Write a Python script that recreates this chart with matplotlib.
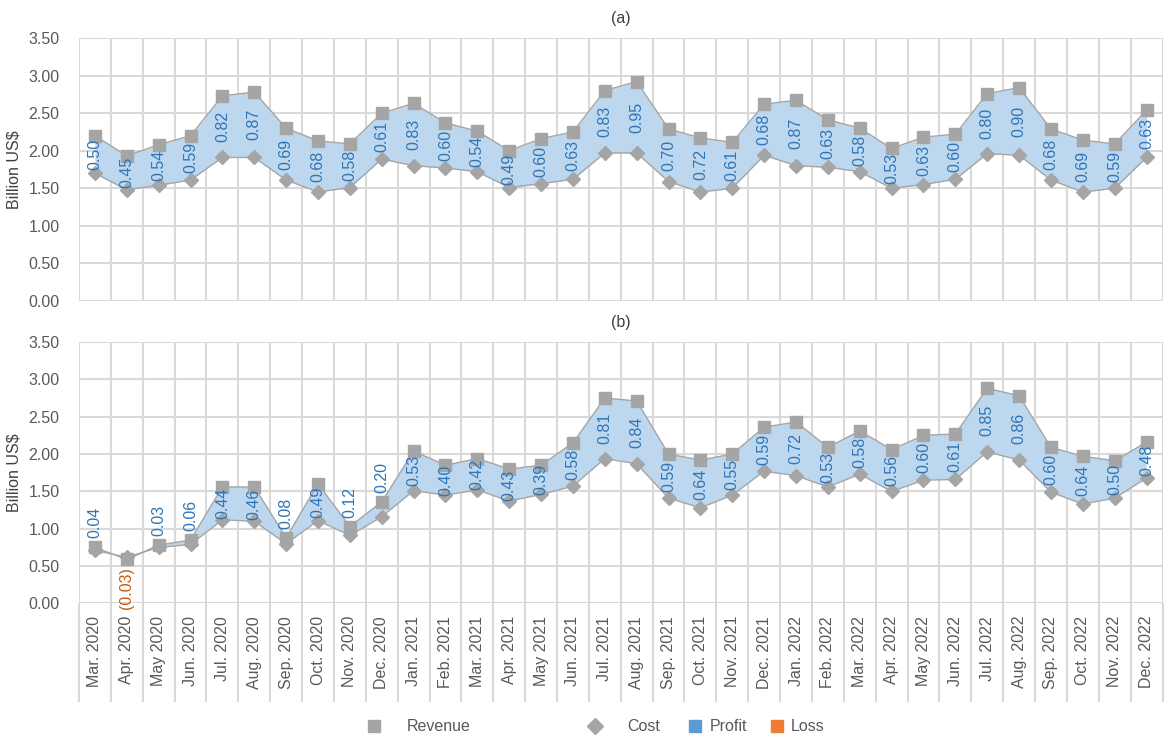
import numpy as np
import matplotlib
matplotlib.use("Agg")
import matplotlib.pyplot as plt
from matplotlib.lines import Line2D

plt.rcParams['font.family'] = ['Liberation Sans', 'DejaVu Sans']

months = ["Mar. 2020", "Apr. 2020", "May 2020", "Jun. 2020", "Jul. 2020", "Aug. 2020",
          "Sep. 2020", "Oct. 2020", "Nov. 2020", "Dec. 2020",
          "Jan. 2021", "Feb. 2021", "Mar. 2021", "Apr. 2021", "May 2021", "Jun. 2021",
          "Jul. 2021", "Aug. 2021", "Sep. 2021", "Oct. 2021", "Nov. 2021", "Dec. 2021",
          "Jan. 2022", "Feb. 2022", "Mar. 2022", "Apr. 2022", "May 2022", "Jun. 2022",
          "Jul. 2022", "Aug. 2022", "Sep. 2022", "Oct. 2022", "Nov. 2022", "Dec. 2022"]

# Panel (a)
revenue_a = [2.20, 1.93, 2.08, 2.20, 2.73, 2.78, 2.30, 2.13, 2.09, 2.50,
             2.63, 2.37, 2.26, 2.00, 2.16, 2.25, 2.80, 2.92, 2.29, 2.17, 2.11, 2.62,
             2.67, 2.41, 2.30, 2.03, 2.18, 2.22, 2.76, 2.84, 2.29, 2.14, 2.09, 2.54]
cost_a = [1.70, 1.48, 1.54, 1.61, 1.91, 1.91, 1.61, 1.45, 1.51, 1.89,
          1.80, 1.77, 1.72, 1.51, 1.56, 1.62, 1.97, 1.97, 1.59, 1.45, 1.50, 1.94,
          1.80, 1.78, 1.72, 1.50, 1.55, 1.62, 1.96, 1.94, 1.61, 1.45, 1.50, 1.91]
profit_a = [0.50, 0.45, 0.54, 0.59, 0.82, 0.87, 0.69, 0.68, 0.58, 0.61,
            0.83, 0.60, 0.54, 0.49, 0.60, 0.63, 0.83, 0.95, 0.70, 0.72, 0.61, 0.68,
            0.87, 0.63, 0.58, 0.53, 0.63, 0.60, 0.80, 0.90, 0.68, 0.69, 0.59, 0.63]

# Panel (b)
revenue_b = [0.75, 0.59, 0.78, 0.85, 1.56, 1.56, 0.88, 1.60, 1.03, 1.36,
             2.04, 1.85, 1.94, 1.80, 1.85, 2.15, 2.75, 2.71, 2.00, 1.92, 2.00, 2.36,
             2.43, 2.09, 2.31, 2.06, 2.25, 2.27, 2.88, 2.78, 2.09, 1.97, 1.91, 2.16]
cost_b = [0.71, 0.62, 0.75, 0.79, 1.12, 1.10, 0.80, 1.11, 0.91, 1.16,
          1.51, 1.45, 1.52, 1.37, 1.46, 1.57, 1.94, 1.87, 1.41, 1.28, 1.45, 1.77,
          1.71, 1.56, 1.73, 1.50, 1.65, 1.66, 2.03, 1.92, 1.49, 1.33, 1.41, 1.68]
profit_b = [0.04, -0.03, 0.03, 0.06, 0.44, 0.46, 0.08, 0.49, 0.12, 0.20,
            0.53, 0.40, 0.42, 0.43, 0.39, 0.58, 0.81, 0.84, 0.59, 0.64, 0.55, 0.59,
            0.72, 0.53, 0.58, 0.56, 0.60, 0.61, 0.85, 0.86, 0.60, 0.64, 0.50, 0.48]

yticks = [0.0, 0.5, 1.0, 1.5, 2.0, 2.5, 3.0, 3.5]

GRAY = '#a5a5a5'
GRID = '#d9d9d9'
TXT = '#595959'
FILL_P = '#bdd7ee'
FILL_L = '#f8cbad'
LBL_P = '#2e75b6'
LBL_L = '#c55a11'
FS = 11.5

fig = plt.figure(figsize=(11.72, 7.43), dpi=100)
ax1 = fig.add_axes([0.0674, 0.5949, 0.9245, 0.354])
ax2 = fig.add_axes([0.0674, 0.1878, 0.9245, 0.3519])


def draw(ax, rev, cost, prof, title, show_x):
    x = np.arange(len(months))
    rev = np.array(rev)
    cost = np.array(cost)
    ax.set_axisbelow(True)
    ax.fill_between(x, cost, rev, where=rev >= cost, interpolate=True,
                    color=FILL_P, lw=0, zorder=1)
    ax.fill_between(x, cost, rev, where=rev < cost, interpolate=True,
                    color=FILL_L, lw=0, zorder=1)
    ax.plot(x, rev, color=GRAY, lw=1.0, marker='s', ms=8.5, mec=GRAY, mfc=GRAY, zorder=3)
    ax.plot(x, cost, color=GRAY, lw=1.0, marker='D', ms=7.5, mec=GRAY, mfc=GRAY, zorder=3)
    for i, p in enumerate(prof):
        if p < 0:
            txt = "({:.2f})".format(-p)
            ax.text(x[i], min(rev[i], cost[i]) - 0.11, txt, rotation=90,
                    ha='center', va='top', color=LBL_L, fontsize=FS, zorder=4)
        elif p < 0.3:
            ax.text(x[i], rev[i] + 0.12, "{:.2f}".format(p), rotation=90,
                    ha='center', va='bottom', color=LBL_P, fontsize=FS, zorder=4)
        else:
            ax.text(x[i], (rev[i] + cost[i]) / 2, "{:.2f}".format(p), rotation=90,
                    ha='center', va='center', color=LBL_P, fontsize=FS, zorder=4)
    ax.set_xlim(-0.5, len(months) - 0.5)
    ax.set_ylim(0, 3.5)
    ax.set_yticks(yticks)
    ax.set_yticklabels(["{:.2f}".format(v) for v in yticks])
    ax.set_xticks(x)
    ax.set_xticks(np.arange(-0.5, len(months), 1.0), minor=True)
    ax.grid(which='minor', axis='x', color=GRID, lw=1.5)
    ax.grid(which='major', axis='y', color=GRID, lw=1.5)
    ax.grid(which='major', axis='x', visible=False)
    for s in ax.spines.values():
        s.set_visible(False)
    ax.tick_params(axis='y', length=0, pad=14, labelsize=FS, labelcolor=TXT)
    if show_x:
        ax.set_xticklabels(months, rotation=90, fontsize=FS, color=TXT)
        ax.tick_params(axis='x', which='major', length=0, pad=9)
        ax.tick_params(axis='x', which='minor', length=71, width=1.5, color=GRID)
    else:
        ax.set_xticklabels([])
        ax.tick_params(axis='x', which='both', length=0)
    ax.set_ylabel("Billion US$", fontsize=FS, color='#404040')
    ax.yaxis.set_label_coords(-0.053, 0.5)
    ax.set_title(title, fontsize=FS, color='#404040', pad=11)


draw(ax1, revenue_a, cost_a, profit_a, "(a)", False)
draw(ax2, revenue_b, cost_b, profit_b, "(b)", True)

h1 = [Line2D([], [], ls='none', marker='s', ms=8.5, color=GRAY, label='Revenue'),
      Line2D([], [], ls='none', marker='D', ms=8, color=GRAY, label='Cost')]
h2 = [Line2D([], [], ls='none', marker='s', ms=8, color='#5b9bd5', label='Profit'),
      Line2D([], [], ls='none', marker='s', ms=8, color='#ed7d31', label='Loss')]
leg1 = fig.legend(handles=h1, loc='center right', bbox_to_anchor=(0.5635, 0.022), ncol=2,
                  frameon=False, fontsize=FS, handlelength=2.6, handletextpad=0.75,
                  columnspacing=6.5, borderaxespad=0, borderpad=0)
for t in leg1.get_texts():
    t.set_color(TXT)
leg2 = fig.legend(handles=h2, loc='center left', bbox_to_anchor=(0.5885, 0.022), ncol=2,
                  frameon=False, fontsize=FS, handlelength=0.7, handletextpad=0.55,
                  columnspacing=1.5, borderaxespad=0, borderpad=0)
for t in leg2.get_texts():
    t.set_color(TXT)

fig.savefig("out.png", dpi=100)
